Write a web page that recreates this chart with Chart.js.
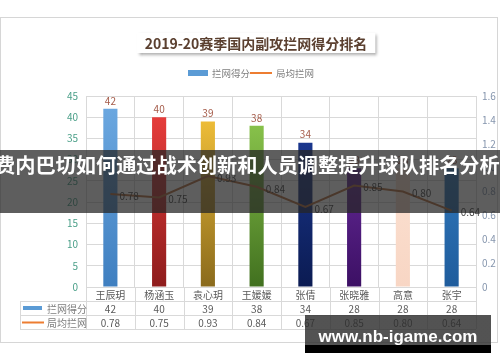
<!DOCTYPE html>
<html>
<head>
<meta charset="utf-8">
<script src="https://cdn.jsdelivr.net/npm/chart.js@4/dist/chart.umd.min.js"></script>
<style>
  body { margin: 0; background: #fff; }
  #cadre { position: relative; width: 500px; height: 362px; overflow: hidden; }
  #bandeau {
    position: absolute; left: 0; top: 150px; width: 500px; height: 63px;
    background: rgba(38, 38, 38, 0.74);
  }
  #bandeau span {
    position: absolute; left: -5px; top: 0; line-height: 63px; white-space: nowrap;
    color: #fff; font: bold 20.2px "Noto Sans CJK SC", sans-serif;
  }
  #filigrane {
    position: absolute; left: 305px; top: 315px; width: 186px; height: 38px;
    background: linear-gradient(to bottom, rgba(45,45,45,0.82) 0, rgba(45,45,45,0.82) 80%, #000 80%, #000 100%);
  }
  #filigrane span {
    position: absolute; left: 0; width: 186px; top: 12px; text-align: center;
    color: #fff; font: bold 17px "Liberation Sans", sans-serif; line-height: 20px;
  }
</style>
</head>
<body>
<div id="cadre">
  <canvas id="graphique" width="500" height="362"></canvas>
  <div id="bandeau"><span>费内巴切如何通过战术创新和人员调整提升球队排名分析</span></div>
  <div id="filigrane"><span>www.nb-igame.com</span></div>
</div>
<script>
// Données
const titre = "2019-20赛季国内副攻拦网得分排名";
const joueuses = ["王辰玥", "杨涵玉", "袁心玥", "王媛媛", "张倩", "张晓雅", "高意", "张宇"];
const nomsSeries = ["拦网得分", "局均拦网"];
const lanwangDefen = [42, 40, 39, 38, 34, 28, 28, 28];
const juJunLanwang = [0.78, 0.75, 0.93, 0.84, 0.67, 0.85, 0.80, 0.64];
const texteJuJun = ["0.78", "0.75", "0.93", "0.84", "0.67", "0.85", "0.80", "0.64"];

// Couleurs des barres (haut -> bas)
const couleursHaut = ["#6eaae2", "#f0403e", "#fcc93c", "#94d052", "#1f3fa0", "#7a36b2", "#fde6d8", "#3a88ce"];
const couleursBas  = ["#3f7fc0", "#8e1c1c", "#8a6a1c", "#41701f", "#0b1b52", "#3c1064", "#f8d6c4", "#1f5c9c"];

const grille = "#d9d9d9";
const police = '"Noto Sans CJK SC", sans-serif';

function degradeBarre(ctx) {
    const chart = ctx.chart;
    const zone = chart.chartArea;
    const i = ctx.dataIndex;
    if (!zone) return couleursHaut[i];
    const g = chart.ctx.createLinearGradient(0, zone.top, 0, zone.bottom);
    g.addColorStop(0, couleursHaut[i]);
    g.addColorStop(1, couleursBas[i]);
    return g;
}

const decor = {
    id: "decor",
    beforeDraw(chart) {
        const c = chart.ctx;
        c.save();
        c.fillStyle = "#fff";
        c.fillRect(0, 0, chart.width, chart.height);
        // cadre
        c.strokeStyle = "#d6d6d6";
        c.lineWidth = 1;
        c.strokeRect(0.5, 17.5, 497, 325);
        // titre dans une boîte ombrée
        c.font = "bold 14px " + police;
        const w = c.measureText(titre).width;
        const bx = 256 - w / 2 - 8, bw = w + 16;
        c.shadowColor = "rgba(0,0,0,0.35)";
        c.shadowBlur = 3;
        c.shadowOffsetX = 2;
        c.shadowOffsetY = 2;
        c.fillStyle = "#fff";
        c.fillRect(bx, 33, bw, 20);
        c.shadowColor = "transparent";
        c.fillStyle = "#5b4030";
        c.textAlign = "center";
        c.textBaseline = "middle";
        c.fillText(titre, 256, 43.5);
        // légende
        c.font = "9.5px " + police;
        c.textAlign = "left";
        c.fillStyle = "#5b9bd5";
        c.fillRect(188, 70, 20, 6);
        c.fillStyle = "#7f7f7f";
        c.fillText(nomsSeries[0], 212, 73);
        c.strokeStyle = "#ed7d31";
        c.lineWidth = 2;
        c.beginPath();
        c.moveTo(250, 73);
        c.lineTo(272, 73);
        c.stroke();
        c.fillText(nomsSeries[1], 276, 73);
        c.restore();
    },
    afterDraw(chart) {
        const c = chart.ctx;
        const x = chart.scales.x;
        const zone = chart.chartArea;
        const bas = zone.bottom;
        const h = 14;
        const pas = (zone.right - zone.left) / joueuses.length;
        c.save();
        c.strokeStyle = grille;
        c.lineWidth = 1;
        // tableau de données
        c.beginPath();
        for (let k = 1; k <= 3; k++) {
            c.moveTo(20, Math.round(bas + k * h) + 0.5);
            c.lineTo(zone.right, Math.round(bas + k * h) + 0.5);
        }
        for (let i = 0; i <= joueuses.length; i++) {
            const px = Math.round(zone.left + i * pas) + 0.5;
            c.moveTo(px, bas);
            c.lineTo(px, bas + 3 * h);
        }
        c.moveTo(20.5, bas + h);
        c.lineTo(20.5, bas + 3 * h);
        c.stroke();

        c.font = "10px " + police;
        c.textAlign = "center";
        c.textBaseline = "middle";
        c.fillStyle = "#595959";
        joueuses.forEach((nom, i) => {
            const px = x.getPixelForValue(i);
            c.fillText(nom, px, bas + h / 2 + 1);
            c.fillText(String(lanwangDefen[i]), px, bas + h * 1.5 + 1);
            c.fillText(texteJuJun[i], px, bas + h * 2.5 + 1);
        });
        // clés de légende du tableau
        c.fillStyle = "#5b9bd5";
        c.fillRect(23, bas + h + 5, 19, 4);
        c.strokeStyle = "#ed7d31";
        c.lineWidth = 2;
        c.beginPath();
        c.moveTo(22, bas + h * 2.5 + 0.5);
        c.lineTo(44, bas + h * 2.5 + 0.5);
        c.stroke();
        c.textAlign = "left";
        c.fillStyle = "#7f7f7f";
        c.fillText(nomsSeries[0], 47, bas + h * 1.5 + 1);
        c.fillText(nomsSeries[1], 47, bas + h * 2.5 + 1);

        // étiquettes des barres
        c.font = "10px " + police;
        c.textAlign = "center";
        c.textBaseline = "bottom";
        c.fillStyle = "#a45a48";
        chart.getDatasetMeta(0).data.forEach((b, i) => {
            c.fillText(String(lanwangDefen[i]), b.x, b.y - 3);
        });
        // étiquettes de la courbe
        c.textAlign = "left";
        c.textBaseline = "middle";
        c.fillStyle = "#404040";
        chart.getDatasetMeta(1).data.forEach((p, i) => {
            c.fillText(texteJuJun[i], p.x + 9, p.y + 2);
        });
        c.restore();
    }
};

new Chart(document.getElementById("graphique"), {
    data: {
        labels: joueuses,
        datasets: [
            {
                type: "bar",
                label: nomsSeries[0],
                data: lanwangDefen,
                backgroundColor: degradeBarre,
                barPercentage: 0.29,
                categoryPercentage: 1,
                yAxisID: "y",
                order: 1
            },
            {
                type: "line",
                label: nomsSeries[1],
                data: juJunLanwang,
                borderColor: "#b06a3a",
                borderWidth: 2,
                pointRadius: 0,
                tension: 0,
                yAxisID: "y1",
                order: 0
            }
        ]
    },
    options: {
        responsive: false,
        animation: false,
        devicePixelRatio: 1,
        layout: { padding: { top: 96, bottom: 75, left: 0, right: 0 } },
        plugins: {
            legend: { display: false },
            tooltip: { enabled: false }
        },
        scales: {
            x: {
                grid: { color: grille, offset: true, drawTicks: false },
                border: { color: grille },
                ticks: { display: false },
                afterFit(s) { s.height = 0; }
            },
            y: {
                position: "left",
                min: 0,
                max: 45,
                ticks: { stepSize: 5, color: "#4a9f88", font: { size: 10, family: police }, padding: 8 },
                grid: { color: grille, drawTicks: false },
                border: { display: false },
                afterFit(s) { s.width = 86; }
            },
            y1: {
                position: "right",
                min: 0,
                max: 1.6,
                ticks: { stepSize: 0.2, color: "#8595ad", font: { size: 10, family: police }, padding: 6 },
                grid: { drawOnChartArea: false, drawTicks: false },
                border: { display: false },
                afterFit(s) { s.width = 24; }
            }
        }
    },
    plugins: [decor]
});
</script>
</body>
</html>
